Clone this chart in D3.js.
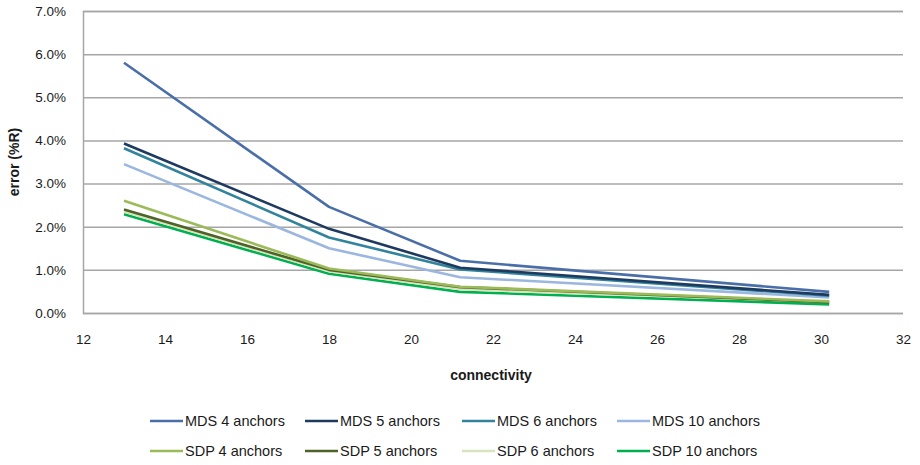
<!DOCTYPE html>
<html>
<head>
<meta charset="utf-8">
<script src="https://cdn.jsdelivr.net/npm/d3@7/dist/d3.min.js"></script>
<style>
  body { margin: 0; background: #fff; }
  svg { display: block; }
  text { font-family: "Liberation Sans Narrow", "Liberation Sans", Arial, sans-serif; fill: #1a1a1a; }
</style>
</head>
<body>
<svg id="chart" width="920" height="465"></svg>
<script>
// Connectivity values at which each method was evaluated
const connectivity = [13, 18, 21.2, 30.2];

// Localization error (fraction of R) per method and anchor count
const mds4  = [0.0580, 0.0246, 0.0121, 0.0049];
const mds5  = [0.0393, 0.0195, 0.0105, 0.0042];
const mds6  = [0.0382, 0.0175, 0.0101, 0.0040];
const mds10 = [0.0345, 0.0150, 0.0083, 0.0036];
const sdp4  = [0.0260, 0.0103, 0.0061, 0.0027];
const sdp5  = [0.0240, 0.0100, 0.0060, 0.0025];
const sdp6  = [0.0235, 0.0097, 0.0055, 0.0026];
const sdp10 = [0.0229, 0.0091, 0.0049, 0.0020];

const seriesNames = ["MDS 4 anchors", "MDS 5 anchors", "MDS 6 anchors", "MDS 10 anchors",
                     "SDP 4 anchors", "SDP 5 anchors", "SDP 6 anchors", "SDP 10 anchors"];
const seriesValues = [mds4, mds5, mds6, mds10, sdp4, sdp5, sdp6, sdp10];
const seriesColors = ["#4a6fa8", "#1f3a5f", "#31849b", "#9bb7e0",
                      "#9bbb59", "#4f6228", "#d7e4bd", "#00b050"];

const xTicks = [12, 14, 16, 18, 20, 22, 24, 26, 28, 30, 32];
const yTicks = [0, 0.01, 0.02, 0.03, 0.04, 0.05, 0.06, 0.07];

const svg = d3.select("#chart");
const plot = { left: 83, right: 903, top: 11, bottom: 313 };

const x = d3.scaleLinear().domain([12, 32]).range([plot.left, plot.right]);
const y = d3.scaleLinear().domain([0, 0.07]).range([plot.bottom, plot.top]);

// Horizontal gridlines with percentage labels
const yAxis = d3.axisLeft(y)
  .tickValues(yTicks)
  .tickFormat(d3.format(".1%"))
  .tickSize(-(plot.right - plot.left))
  .tickPadding(17);
const gy = svg.append("g").attr("transform", `translate(${plot.left},0)`).call(yAxis);
gy.select(".domain").attr("stroke", "#a6a6a6").attr("stroke-width", 1.5);
gy.selectAll(".tick line").attr("stroke", "#a6a6a6").attr("stroke-width", 1.5);
gy.selectAll(".tick text").style("font-size", "13.5px").attr("fill", "#1a1a1a");

// Connectivity axis labels (no visible line or tick marks)
const xAxis = d3.axisBottom(x).tickValues(xTicks).tickFormat(d3.format("d")).tickSize(0).tickPadding(21);
const gx = svg.append("g").attr("transform", `translate(0,${plot.bottom})`).call(xAxis);
gx.select(".domain").remove();
gx.selectAll(".tick text").style("font-size", "13.5px").attr("fill", "#1a1a1a");

// Series lines
const line = d3.line().x((d, i) => x(connectivity[i])).y(d => y(d));
const drawOrder = [7, 6, 5, 4, 3, 2, 1, 0];
drawOrder.forEach(k => {
  svg.append("path")
    .datum(seriesValues[k])
    .attr("d", line)
    .attr("fill", "none")
    .attr("stroke", seriesColors[k])
    .attr("stroke-width", 2.6)
    .attr("stroke-linejoin", "round");
});

// Axis titles
svg.append("text")
  .attr("x", 491).attr("y", 380)
  .attr("text-anchor", "middle")
  .style("font-size", "14px").style("font-weight", "bold")
  .text("connectivity");

svg.append("text")
  .attr("transform", "translate(19,162) rotate(-90)")
  .attr("text-anchor", "middle")
  .style("font-size", "14px").style("font-weight", "bold")
  .text("error (%R)");

// Legend: two rows of four
const legendCols = [150, 305, 462, 617];
const legendRows = [421, 451];
seriesNames.forEach((name, k) => {
  const lx = legendCols[k % 4];
  const ly = legendRows[Math.floor(k / 4)];
  const g = svg.append("g").attr("transform", `translate(${lx},${ly})`);
  g.append("line")
    .attr("x1", 0).attr("x2", 33).attr("y1", 0).attr("y2", 0)
    .attr("stroke", seriesColors[k]).attr("stroke-width", 2.6);
  g.append("text")
    .attr("x", 35).attr("y", 5)
    .style("font-size", "14.5px")
    .text(name);
});
</script>
</body>
</html>
